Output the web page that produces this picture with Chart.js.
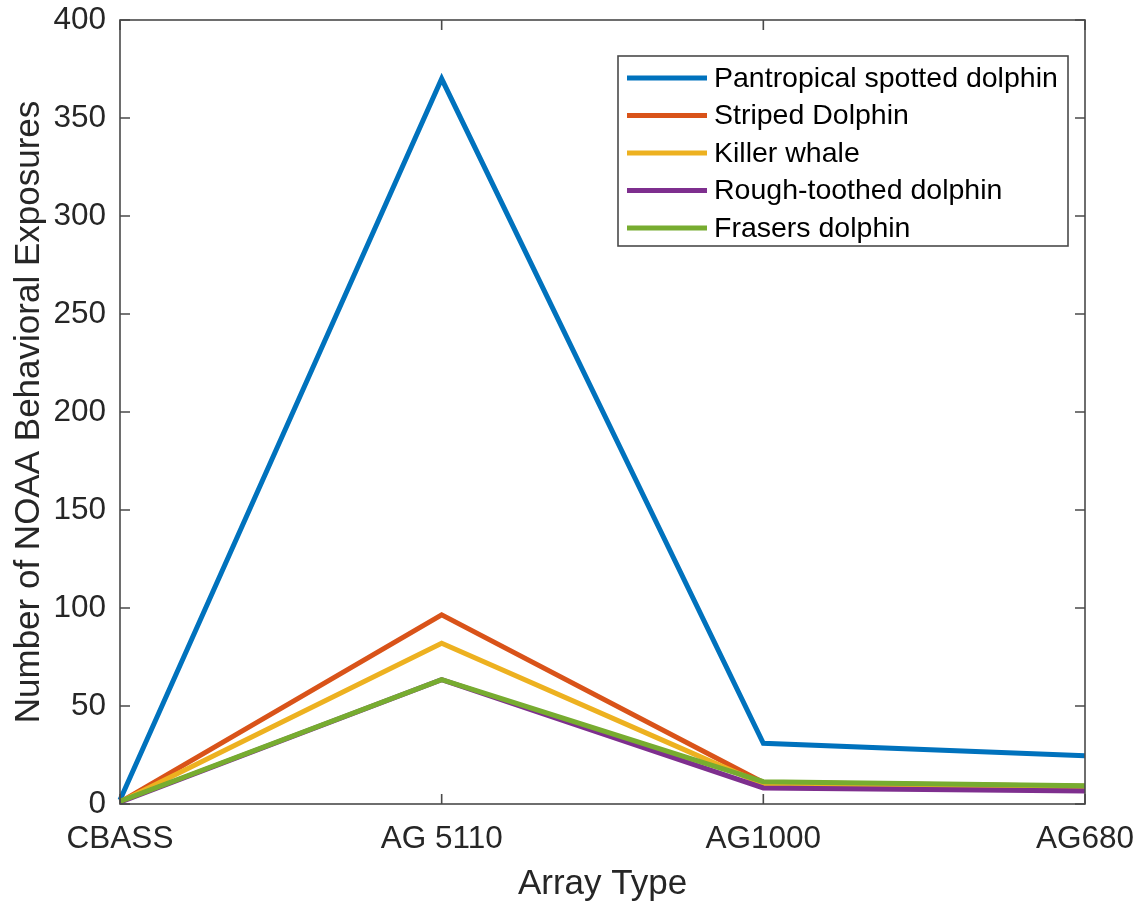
<!DOCTYPE html>
<html>
<head>
<meta charset="utf-8">
<script src="https://cdn.jsdelivr.net/npm/chart.js@4/dist/chart.umd.min.js"></script>
<style>
  html, body { margin: 0; padding: 0; background: #fff; }
  #wrap { width: 1140px; height: 902px; position: relative; }
</style>
</head>
<body>
<div id="wrap"><canvas id="c" width="1140" height="902"></canvas></div>
<script>
const categories = ["CBASS", "AG 5110", "AG1000", "AG680"];
const seriesNames = ["Pantropical spotted dolphin", "Striped Dolphin", "Killer whale", "Rough-toothed dolphin", "Frasers dolphin"];
const pantropical = [2, 370, 31, 24.6];
const striped = [1, 96.5, 11, 9];
const killer = [1, 82, 10, 8];
const roughToothed = [1, 63.5, 8.2, 6.6];
const frasers = [1.3, 63.5, 11.4, 9.3];
const seriesValues = [pantropical, striped, killer, roughToothed, frasers];
const seriesColors = ["#0072BD", "#D95319", "#EDB120", "#7E2F8E", "#77AC30"];
const yTicks = [0, 50, 100, 150, 200, 250, 300, 350, 400];

const FONT = "'Liberation Sans', Arial, Helvetica, sans-serif";
const AXIS_COLOR = "#4a4a4a";

const datasets = seriesNames.map((name, i) => ({
  label: name,
  data: seriesValues[i],
  borderColor: seriesColors[i],
  backgroundColor: seriesColors[i],
  borderWidth: 5,
  pointRadius: 0,
  pointHoverRadius: 0,
  tension: 0,
  fill: false,
  order: seriesNames.length - i,
  borderJoinStyle: 'miter',
  clip: false
}));

const boxPlugin = {
  id: 'matlabBox',
  afterDatasetsDraw(chart) {
    const { ctx, chartArea: a, scales } = chart;
    ctx.save();
    ctx.strokeStyle = AXIS_COLOR;
    ctx.lineWidth = 1.6;
    ctx.strokeRect(a.left, a.top, a.right - a.left, a.bottom - a.top);
    const tl = 10;
    ctx.beginPath();
    yTicks.forEach(v => {
      const y = scales.y.getPixelForValue(v);
      ctx.moveTo(a.left, y); ctx.lineTo(a.left + tl, y);
      ctx.moveTo(a.right, y); ctx.lineTo(a.right - tl, y);
    });
    categories.forEach((c, i) => {
      const x = scales.x.getPixelForValue(i);
      ctx.moveTo(x, a.bottom); ctx.lineTo(x, a.bottom - tl);
      ctx.moveTo(x, a.top); ctx.lineTo(x, a.top + tl);
    });
    ctx.stroke();

    // legend
    const lx = 618, ly = 56, lw = 450, lh = 190;
    ctx.fillStyle = '#fff';
    ctx.fillRect(lx, ly, lw, lh);
    ctx.strokeStyle = AXIS_COLOR;
    ctx.lineWidth = 1.6;
    ctx.strokeRect(lx, ly, lw, lh);
    ctx.font = "28.5px " + FONT;
    ctx.textBaseline = 'middle';
    ctx.textAlign = 'left';
    chart.data.datasets.forEach((ds, i) => {
      const cy = 78 + i * 37.5;
      ctx.strokeStyle = ds.borderColor;
      ctx.lineWidth = 5;
      ctx.beginPath();
      ctx.moveTo(627, cy); ctx.lineTo(707, cy);
      ctx.stroke();
      ctx.fillStyle = '#000';
      ctx.fillText(ds.label, 714, cy + 1);
    });
    ctx.restore();
  }
};

new Chart(document.getElementById('c'), {
  type: 'line',
  data: { labels: categories, datasets },
  options: {
    responsive: false,
    animation: false,
    layout: { padding: { top: 20, right: 55, left: 0, bottom: 0 } },
    plugins: { legend: { display: false }, tooltip: { enabled: false } },
    scales: {
      x: {
        type: 'category',
        offset: false,
        grid: { display: false, drawTicks: false },
        border: { display: false },
        ticks: { color: '#262626', font: { family: FONT, size: 31.5 }, padding: 16, maxRotation: 0, autoSkip: false },
        title: { display: true, text: 'Array Type', color: '#262626', font: { family: FONT, size: 35 }, padding: { top: 0, bottom: -3 } },
        afterFit(s) { s.height = 98; s.paddingLeft = 0; s.paddingRight = 0; }
      },
      y: {
        type: 'linear',
        min: 0, max: 400,
        afterBuildTicks(s) { s.ticks = yTicks.map(v => ({ value: v })); },
        grid: { display: false, drawTicks: false },
        border: { display: false },
        ticks: { color: '#262626', font: { family: FONT, size: 31.5 }, padding: 14 },
        title: { display: true, text: 'Number of NOAA Behavioral Exposures', color: '#262626', font: { family: FONT, size: 35 }, padding: { top: 8, bottom: 0 } },
        afterFit(s) { s.width = 120; s.paddingTop = 0; s.paddingBottom = 0; }
      }
    }
  },
  plugins: [boxPlugin]
});
</script>
</body>
</html>
